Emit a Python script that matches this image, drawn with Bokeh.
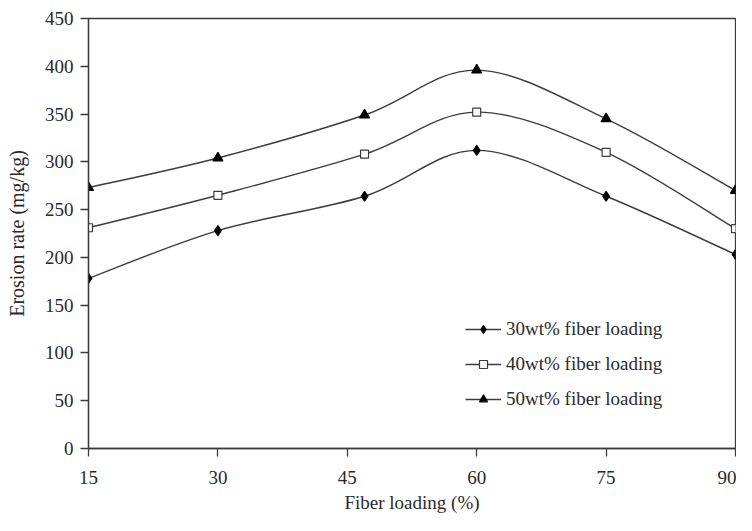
from bokeh.plotting import figure
from bokeh.models import Range1d, FixedTicker, Legend, LegendItem, ColumnDataSource
from bokeh.embed import file_html
from bokeh.resources import INLINE

# ---- data ----
fiber_x = [15, 30, 47, 60, 75, 90]
s30 = [178, 228, 264, 312, 264, 203]
s40 = [231, 265, 308, 352, 310, 230]
s50 = [273, 304, 349, 396, 345, 270]
x_ticks = [15, 30, 45, 60, 75, 90]
y_ticks = [0, 50, 100, 150, 200, 250, 300, 350, 400, 450]
series_labels = ["30wt% fiber loading", "40wt% fiber loading", "50wt% fiber loading"]

FONT = "Liberation Serif"
INK = "#2a2a2a"
LINE = "#3c3c3c"

p = figure(width=736, height=515, output_backend="svg", toolbar_location=None,
           x_range=Range1d(15, 90), y_range=Range1d(0, 450),
           min_border_left=88, min_border_right=1, min_border_top=18, min_border_bottom=66)
p.xgrid.visible = False
p.ygrid.visible = False
p.outline_line_color = LINE
p.outline_line_width = 1.3
p.background_fill_color = "white"
p.border_fill_color = "white"

for ax in (p.xaxis[0], p.yaxis[0]):
    ax.axis_line_color = LINE
    ax.axis_line_width = 1.3
    ax.major_tick_line_color = LINE
    ax.major_tick_line_width = 1.3
    ax.major_tick_in = 0
    ax.major_tick_out = 8
    ax.minor_tick_line_color = None
    ax.major_label_text_font = FONT
    ax.major_label_text_font_size = "19px"
    ax.major_label_text_color = INK
    ax.axis_label_text_font = FONT
    ax.axis_label_text_font_size = "19px"
    ax.axis_label_text_font_style = "normal"
    ax.axis_label_text_color = INK

p.yaxis.axis_label_text_font_size = "20px"
p.xaxis.ticker = FixedTicker(ticks=x_ticks)
p.yaxis.ticker = FixedTicker(ticks=y_ticks)
p.xaxis.major_label_standoff = 14
p.yaxis.major_label_standoff = 7
p.xaxis.axis_label = "Fiber loading (%)"
p.yaxis.axis_label = "Erosion rate (mg/kg)"
p.xaxis.axis_label_standoff = 5
p.yaxis.axis_label_standoff = 14


def smooth_segments(xs, ys):
    """Catmull-Rom control points for Bezier segments between data points."""
    n = len(xs)
    d = dict(x0=[], y0=[], x1=[], y1=[], cx0=[], cy0=[], cx1=[], cy1=[])
    for i in range(n - 1):
        i0 = max(i - 1, 0)
        i3 = min(i + 2, n - 1)
        d["x0"].append(xs[i]); d["y0"].append(ys[i])
        d["x1"].append(xs[i + 1]); d["y1"].append(ys[i + 1])
        d["cx0"].append(xs[i] + (xs[i + 1] - xs[i0]) / 6.0)
        d["cy0"].append(ys[i] + (ys[i + 1] - ys[i0]) / 6.0)
        d["cx1"].append(xs[i + 1] - (xs[i3] - xs[i]) / 6.0)
        d["cy1"].append(ys[i + 1] - (ys[i3] - ys[i]) / 6.0)
    return ColumnDataSource(d)


markers = [
    dict(marker="diamond", size=10, fill_color="black", line_color="black"),
    dict(marker="square", size=8, fill_color="white", line_color=LINE),
    dict(marker="triangle", size=10, fill_color="black", line_color="black"),
]

items = []
for ys, mk, lab in zip([s30, s40, s50], markers, series_labels):
    src = smooth_segments(fiber_x, ys)
    bz = p.bezier(x0="x0", y0="y0", x1="x1", y1="y1", cx0="cx0", cy0="cy0",
                  cx1="cx1", cy1="cy1", source=src, line_color=LINE, line_width=1.4)
    pts = ColumnDataSource(dict(x=fiber_x, y=ys))
    sc = p.scatter(x="x", y="y", source=pts, line_width=1.2, **mk)
    items.append(LegendItem(label=lab, renderers=[bz, sc], index=0))

legend = Legend(items=items, location=(377, 38), orientation="vertical")
legend.border_line_color = None
legend.background_fill_alpha = 0
legend.padding = 0
legend.margin = 0
legend.spacing = 13
legend.glyph_width = 36
legend.glyph_height = 20
legend.label_height = 20
legend.label_standoff = 5
legend.label_text_font = FONT
legend.label_text_font_size = "19px"
legend.label_text_color = INK
p.add_layout(legend, "center")

open("out.html", "w").write(file_html(p, INLINE))
